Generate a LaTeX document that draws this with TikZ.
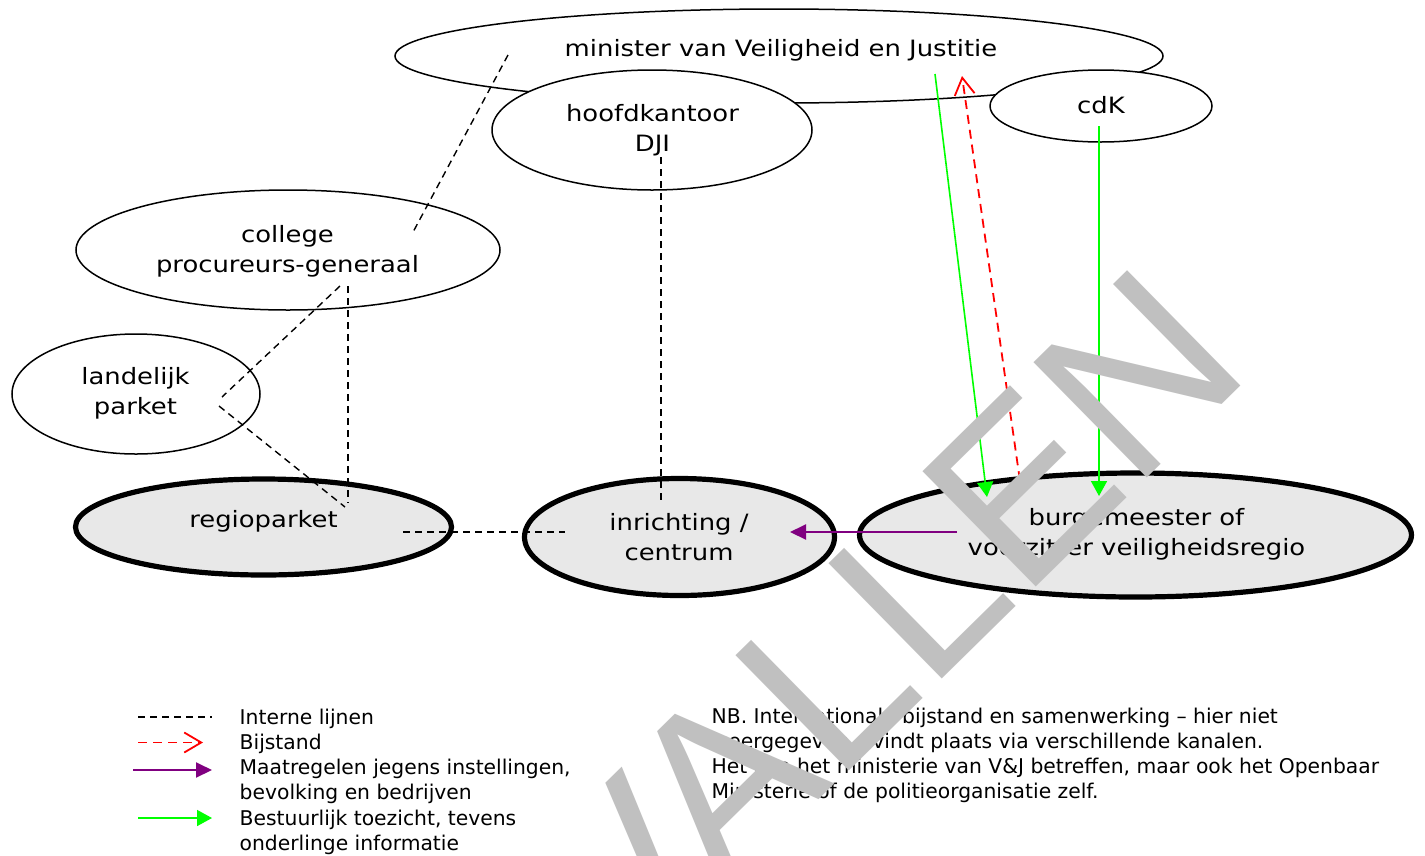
\documentclass[tikz,border=0pt]{standalone}
\usepackage{fontspec}
\setmainfont{DejaVu Sans}
\newfontfamily\nodefont{DejaVu Sans}[FakeStretch=1.15]
\newfontfamily\wmfont{Liberation Sans}
\usetikzlibrary{shapes.geometric,arrows.meta,calc}
\definecolor{fillgray}{RGB}{232,232,232}
\definecolor{wmgray}{RGB}{192,192,192}
\definecolor{vgreen}{RGB}{0,255,0}
\definecolor{vpurple}{RGB}{128,0,128}
\definecolor{vred}{RGB}{255,0,0}
\newcommand{\twoline}[2]{\begin{tabular}[t]{@{}c@{}}#1\\#2\end{tabular}}
\newcommand{\lefttwo}[2]{\begin{tabular}[t]{@{}l@{}}#1\\#2\end{tabular}}
\begin{document}
\begin{tikzpicture}[x=1pt,y=-1pt,
  ell/.style={ellipse, draw, fill=white, line width=1.5pt, inner sep=0pt},
  boldell/.style={ellipse, draw, fill=fillgray, line width=5.2pt, inner sep=0pt},
  lbl/.style={font=\nodefont\fontsize{22.5}{30}\selectfont, inner sep=0pt, anchor=base},
  leg/.style={font=\fontsize{20.3}{25.2}\selectfont, inner sep=0pt, anchor=base west},
  internal/.style={draw=black, line width=1.4pt, dash pattern=on 7pt off 5pt},
  bijstand/.style={draw=vred, line width=1.8pt, dash pattern=on 9pt off 6pt, -{Straight Barb[length=17pt,width=20pt]}},
  maatregel/.style={draw=vpurple, line width=2pt, -{Triangle[length=16pt,width=15pt]}},
  toezicht/.style={draw=vgreen, line width=1.6pt, -{Triangle[length=15pt,width=16pt]}},
]
\useasboundingbox (0,0) rectangle (1425,855);
\fill[white] (0,0) rectangle (1425,855);

% ellipses
\node[ell, minimum width=768pt, minimum height=94pt] (min) at (779,56) {};
\node[ell, minimum width=320pt, minimum height=120pt] (dji) at (652,130) {};
\node[ell, minimum width=222pt, minimum height=72pt] (cdk) at (1101,106) {};
\node[ell, minimum width=424pt, minimum height=120pt] (pg) at (288,250) {};
\node[ell, minimum width=248pt, minimum height=120pt] (lp) at (136,394) {};
\node[boldell, minimum width=376pt, minimum height=96pt] (rp) at (263.5,527) {};
\node[boldell, minimum width=310pt, minimum height=117pt] (inr) at (679.5,537) {};
\node[boldell, minimum width=552pt, minimum height=124pt] (bgm) at (1135.5,535) {};

% texts
\node[lbl] (min-t) at (781,56) {minister van Veiligheid en Justitie};
\node[lbl] (dji-t) at (652.5,121) {\twoline{hoofdkantoor}{DJI}};
\node[lbl] (cdk-t) at (1101,113) {cdK};
\node[lbl] (pg-t) at (287.5,242) {\twoline{college}{procureurs-generaal}};
\node[lbl] (lp-t) at (135.5,384) {\twoline{landelijk}{parket}};
\node[lbl] (rp-t) at (263.5,527) {regioparket};
\node[lbl] (inr-t) at (679,530) {\twoline{inrichting /}{centrum}};
\node[lbl] (bgm-t) at (1136.5,525) {\twoline{burgemeester of}{voorzitter veiligheidsregio}};

% connectors
\draw[internal] ($(min.center)+(-271,-1)$) -- ($(pg.center)+(124,-16)$);
\draw[internal] ($(dji.center)+(9,27)$) -- ($(inr.center)+(-18.5,-37)$);
\draw[internal] ($(pg.center)+(60,36)$) -- ($(rp.center)+(84.5,-24)$);
\draw[internal] ($(pg.center)+(52,36)$) -- ($(lp.center)+(86,3)$);
\draw[internal] ($(lp.center)+(83,12)$) -- ($(rp.center)+(81.5,-20)$);
\draw[internal] ($(rp.center)+(139.5,5)$) -- ($(inr.center)+(-114.5,-5)$);
\draw[maatregel] ($(bgm.center)+(-178.5,-3)$) -- ($(inr.center)+(110.5,-5)$);
\draw[toezicht] ($(min.center)+(156,18)$) -- ($(bgm.center)+(-148.5,-38)$);
\draw[toezicht] ($(cdk.center)+(-2,20)$) -- ($(bgm.center)+(-36.5,-39)$);
\draw[bijstand] ($(bgm.center)+(-113.5,-40)$) -- ($(min.center)+(183,20)$);

% legend
\coordinate (l1a) at (138,717); \coordinate (l1b) at (212,717);
\coordinate (l2a) at (138,742.5); \coordinate (l2b) at (203,742.5);
\coordinate (l3a) at (133,770); \coordinate (l3b) at (212,770);
\coordinate (l4a) at (138,818); \coordinate (l4b) at (212,818);
\draw[internal] (l1a) -- (l1b);
\draw[bijstand] (l2a) -- (l2b);
\draw[maatregel] (l3a) -- (l3b);
\draw[toezicht] (l4a) -- (l4b);
\node[leg] (leg1) at (239.5,724) {Interne lijnen};
\node[leg] (leg2) at (239.5,749.3) {Bijstand};
\node[leg] (leg3) at (239.5,774) {\lefttwo{Maatregelen jegens instellingen,}{bevolking en bedrijven}};
\node[leg] (leg4) at (239.5,825) {\lefttwo{Bestuurlijk toezicht, tevens}{onderlinge informatie}};
\node[leg] (nb) at (711.5,723.3) {\begin{tabular}[t]{@{}l@{}}NB. Internationale bijstand en samenwerking -- hier niet\\weergegeven -- vindt plaats via verschillende kanalen.\\Het kan het ministerie van V\&J betreffen, maar ook het Openbaar\\Ministerie of de politieorganisatie zelf.\end{tabular}};

% watermark
\node[font=\wmfont\fontsize{235}{235}\selectfont, text=wmgray, rotate=44.5, anchor=base east, inner sep=0pt] (wm) at (1255,372) {VERVALLEN};
\end{tikzpicture}
\end{document}
